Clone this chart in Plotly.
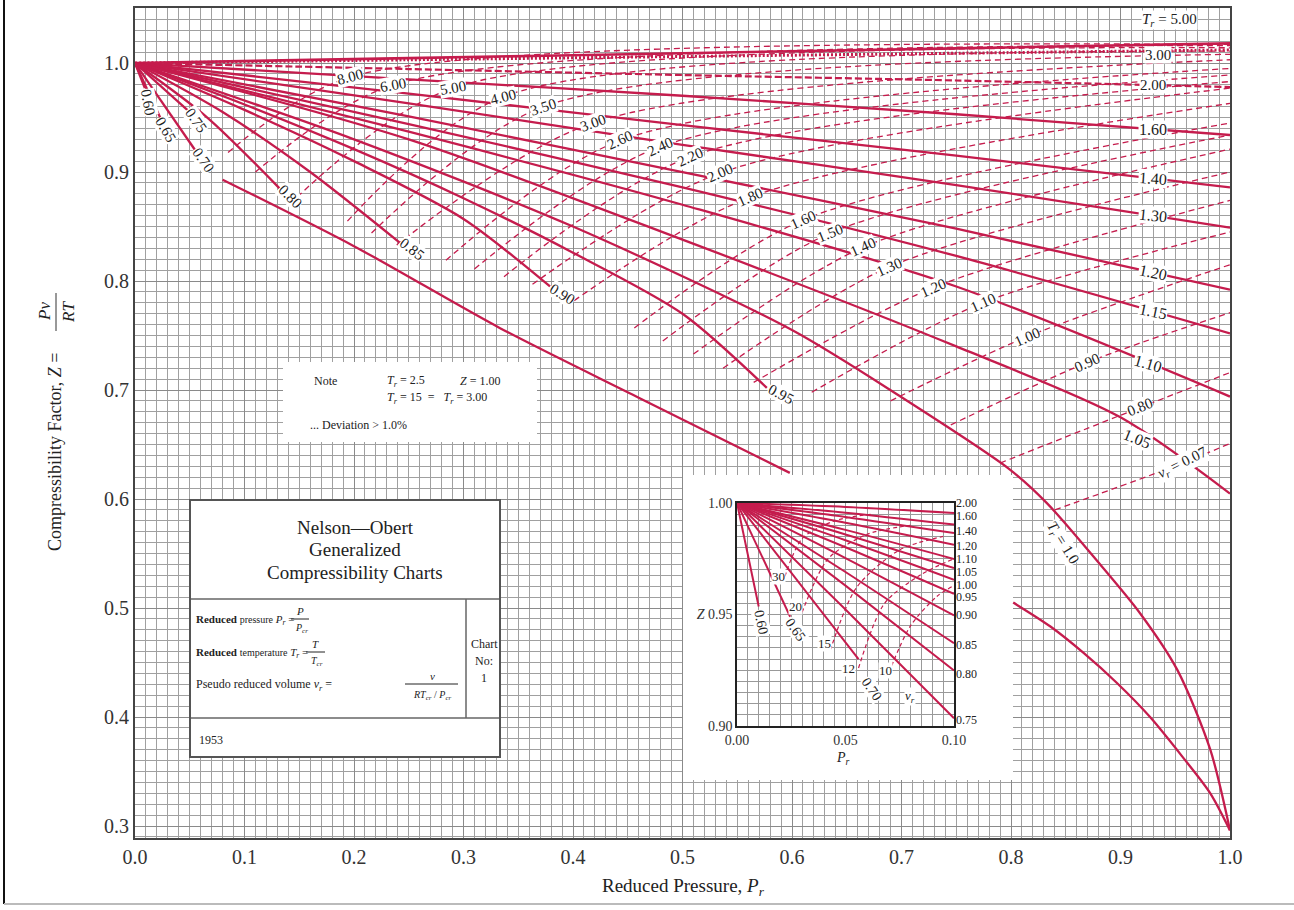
import numpy as np
import plotly.graph_objects as go

RED = "#C51C4D"
GRID = "#a0a0a0"
SERIF = "Liberation Serif"
W, H = 1294, 910
L, R, T, B = 135, 64, 8, 72
YMIN, YMAX = 0.289, 1.0505

# ---------------- main chart data ----------------
iso_pr = [0.0, 0.25, 0.5, 0.75, 1.0]
z_tr_500 = [1.0, 1.0045, 1.009, 1.0135, 1.018]
z_tr_300 = [1.0, 1.003, 1.006, 1.009, 1.012]
z_tr_200 = [1.0, 0.9945, 0.989, 0.984, 0.978]
z_tr_160 = [1.0, 0.985, 0.970, 0.953, 0.934]
z_tr_140 = [1.0, 0.972, 0.943, 0.915, 0.886]
z_tr_130 = [1.0, 0.963, 0.925, 0.888, 0.849]
z_tr_120 = [1.0, 0.951, 0.900, 0.848, 0.792]
z_tr_115 = [1.0, 0.944, 0.886, 0.823, 0.752]
z_tr_110 = [1.0, 0.937, 0.870, 0.795, 0.694]
pr_tr_105 = [0.0, 0.25, 0.5, 0.75, 0.9, 1.0]
z_tr_105 = [1.0, 0.930, 0.838, 0.740, 0.675, 0.605]
pr_tr_100 = [0.0, 0.2, 0.4, 0.6, 0.699, 0.799, 0.833, 0.878, 0.918, 0.952, 0.982, 1.0]
z_tr_100 = [1.0, 0.930, 0.850, 0.755, 0.694, 0.627, 0.596, 0.544, 0.495, 0.443, 0.370, 0.296]
pr_tr_095 = [0.0, 0.1, 0.2, 0.3, 0.4, 0.5, 0.577]
z_tr_095 = [1.0, 0.962, 0.921, 0.876, 0.826, 0.770, 0.702]
pr_tr_090 = [0.0, 0.1, 0.2, 0.3, 0.379]
z_tr_090 = [1.0, 0.957, 0.910, 0.857, 0.795]
pr_tr_085 = [0.0, 0.08, 0.16, 0.242]
z_tr_085 = [1.0, 0.955, 0.900, 0.835]
pr_tr_080 = [0.0, 0.066, 0.132]
z_tr_080 = [1.0, 0.950, 0.885]
pr_tr_075 = [0.0, 0.05]
z_tr_075 = [1.0, 0.955]
pr_tr_070 = [0.0, 0.055]
z_tr_070 = [1.0, 0.920]
pr_tr_065 = [0.0, 0.023]
z_tr_065 = [1.0, 0.950]
pr_tr_060 = [0.0, 0.009]
z_tr_060 = [1.0, 0.977]
# lower boundary curve (passes behind the inset)
pr_bound = [0.080, 0.200, 0.333, 0.460, 0.598, None, 0.802, 0.836, 0.866, 0.897, 0.927, 0.957, 0.982, 1.0]
z_bound = [0.893, 0.832, 0.757, 0.693, 0.624, None, 0.505, 0.483, 0.459, 0.431, 0.400, 0.363, 0.330, 0.296]

# pseudo reduced volume lines (dashed): start, label point, end (at Pr = 1)
vr_values = ["8.00", "6.00", "5.00", "4.00", "3.50", "3.00", "2.60", "2.40", "2.20", "2.00",
             "1.80", "1.60", "1.50", "1.40", "1.30", "1.20", "1.10", "1.00", "0.90", "0.80", "0.70"]
vr_start_pr = [0.085, 0.110, 0.148, 0.194, 0.216, 0.239, 0.284, 0.310, 0.337, 0.363,
               0.401, 0.456, 0.482, 0.510, 0.537, 0.565, 0.618, 0.690, 0.745, 0.790, 0.840]
vr_start_z = [0.918, 0.900, 0.877, 0.855, 0.844, 0.833, 0.819, 0.811, 0.804, 0.797,
              0.782, 0.757, 0.745, 0.733, 0.720, 0.707, 0.698, 0.690, 0.668, 0.633, 0.590]
vr_mid_pr = [0.196, 0.236, 0.290, 0.336, 0.373, 0.418, 0.443, 0.479, 0.507, 0.534,
             0.562, 0.610, 0.635, 0.665, 0.689, 0.729, 0.774, 0.815, 0.869, 0.918, 0.957]
vr_mid_z = [0.987, 0.980, 0.977, 0.969, 0.960, 0.945, 0.929, 0.923, 0.914, 0.899,
            0.877, 0.856, 0.844, 0.831, 0.813, 0.794, 0.780, 0.749, 0.725, 0.684, 0.633]
vr_end_z = [1.017, 1.016, 1.014, 1.011, 1.008, 1.003, 0.995, 0.989, 0.983, 0.977,
            0.963, 0.945, 0.934, 0.921, 0.900, 0.874, 0.845, 0.815, 0.771, 0.716, 0.651]

# ---------------- inset data ----------------
inset_tr = ["2.00", "1.60", "1.40", "1.20", "1.10", "1.05", "1.00", "0.95", "0.90", "0.85", "0.80", "0.75"]
inset_z_end = [0.9955, 0.9903, 0.9865, 0.9813, 0.9749, 0.9708, 0.9656, 0.9593, 0.9496, 0.9371, 0.9249, 0.9035]
inset_short_tr = ["0.60", "0.65", "0.70"]
inset_short_pr = [0.010, 0.0245, 0.056]
inset_short_z = [0.9536, 0.949, 0.930]
inset_vr = ["30", "20", "15", "12", "10"]
inset_vr_pr = [[0.021, 0.030, 0.045, 0.062], [0.030, 0.042, 0.060, 0.080], [0.043, 0.055, 0.075, 0.095],
               [0.056, 0.068, 0.085, 0.100], [0.070, 0.080, 0.092, 0.100]]
inset_vr_z = [[0.964, 0.984, 0.992, 0.995], [0.951, 0.975, 0.986, 0.990], [0.934, 0.962, 0.979, 0.985],
              [0.926, 0.955, 0.968, 0.975], [0.924, 0.945, 0.958, 0.963]]


def px_x(px):
    return (px - L) / (W - L - R)


def px_y(py):
    return (H - B - py) / (H - T - B)


def dy(py):
    return YMIN + px_y(py) * (YMAX - YMIN)


fig = go.Figure()


def line(x, y, width=2.3, dash="solid", xa="x", ya="y", shape="spline"):
    fig.add_trace(go.Scatter(x=x, y=y, mode="lines", xaxis=xa, yaxis=ya, hoverinfo="skip",
                             line=dict(color=RED, width=width, dash=dash, shape=shape, smoothing=0.8),
                             connectgaps=False, showlegend=False))


# vr dashed lines
for i in range(len(vr_values)):
    line([vr_start_pr[i], vr_mid_pr[i], 1.0], [vr_start_z[i], vr_mid_z[i], vr_end_z[i]],
         width=1.3, dash="6px,4px")

# isotherms
line(iso_pr, z_tr_500, width=2.6)
line(iso_pr, z_tr_300, width=3, dash="2px,2px")
line(iso_pr, z_tr_200, width=2.2, dash="7px,3px")
for z in [z_tr_160, z_tr_140, z_tr_130, z_tr_120, z_tr_115, z_tr_110]:
    line(iso_pr, z)
low_curves = [(pr_tr_105, z_tr_105), (pr_tr_100, z_tr_100), (pr_tr_095, z_tr_095), (pr_tr_090, z_tr_090),
              (pr_tr_085, z_tr_085), (pr_tr_080, z_tr_080), (pr_tr_075, z_tr_075), (pr_tr_070, z_tr_070),
              (pr_tr_065, z_tr_065), (pr_tr_060, z_tr_060)]
for p, z in low_curves:
    line(p, z)
line(pr_bound, z_bound)

annotations = []


def label(x, y, text, angle=0, size=15, xref="x", yref="y", bg="white", xanchor="center", xshift=0, yshift=0):
    annotations.append(dict(x=x, y=y, xref=xref, yref=yref, text=text, showarrow=False, textangle=angle,
                            font=dict(family=SERIF, size=size, color="#222"), bgcolor=bg, borderpad=0,
                            xanchor=xanchor, xshift=xshift, yshift=yshift))


vr_angles = [-14, -10, -10, -14, -18, -20, -24, -24, -24, -24, -24, -24, -22, -24, -24, -24, -24, -24, -24, -22, -26]
for i, v in enumerate(vr_values):
    txt = v if v != "0.70" else "<i>v<sub>r</sub></i> = 0.07"
    label(vr_mid_pr[i], vr_mid_z[i], txt, angle=vr_angles[i])

# right side isotherm labels (text, curve, angle, Pr position, vertical nudge)
right_curves = [("1.60", iso_pr, z_tr_160, 0, 0.93, 0), ("1.40", iso_pr, z_tr_140, 4, 0.93, 0),
                ("1.30", iso_pr, z_tr_130, 6, 0.93, 0), ("1.20", iso_pr, z_tr_120, 12, 0.93, 0),
                ("1.15", iso_pr, z_tr_115, 12, 0.93, 0), ("1.10", iso_pr, z_tr_110, 16, 0.925, 0),
                ("1.05", pr_tr_105, z_tr_105, 22, 0.915, -10)]
for txt, p, z, ang, xp, ys in right_curves:
    label(xp, float(np.interp(xp, p, z)), txt, angle=ang, size=16, yshift=ys)
label(0.934, float(np.interp(0.934, iso_pr, z_tr_300)) - 0.004, "3.00", size=15)
label(0.93, float(np.interp(0.93, iso_pr, z_tr_200)), "2.00", size=15)
label(0.945, dy(20), "<i>T<sub>r</sub></i> = 5.00", size=15)
label(0.847, float(np.interp(0.847, pr_tr_100, z_tr_100)) - 0.02, "<i>T<sub>r</sub></i> = 1.0", angle=58, size=15)

low_labels = [("0.95", pr_tr_095, z_tr_095, 28, 14, -6), ("0.90", pr_tr_090, z_tr_090, 32, 12, -8),
              ("0.85", pr_tr_085, z_tr_085, 38, 12, -6), ("0.80", pr_tr_080, z_tr_080, 45, 10, -8),
              ("0.75", pr_tr_075, z_tr_075, 55, 6, -8), ("0.70", pr_tr_070, z_tr_070, 55, 8, -10),
              ("0.65", pr_tr_065, z_tr_065, 60, 6, -12), ("0.60", pr_tr_060, z_tr_060, 80, 3, -14)]
for txt, p, z, ang, xs, ys in low_labels:
    label(p[-1], z[-1], txt, angle=ang, size=15, xshift=xs, yshift=ys)

# ---------------- boxes ----------------
shapes = []


def wbox(x0, y0, x1, y1, border=None):
    shapes.append(dict(type="rect", xref="x", yref="y", x0=px_x(x0), x1=px_x(x1), y0=dy(y1), y1=dy(y0),
                       fillcolor="white", line=dict(color=border or "rgba(0,0,0,0)", width=2 if border else 0),
                       layer="between"))


wbox(283, 362, 537, 442)
wbox(190, 500, 500, 757, border="#555")
wbox(683, 475, 1013, 780)


def pline(x0, y0, x1, y1, color="#666", width=1.5):
    shapes.append(dict(type="line", xref="paper", yref="paper", x0=px_x(x0), x1=px_x(x1), y0=px_y(y0),
                       y1=px_y(y1), line=dict(color=color, width=width), layer="above"))


pline(191, 599, 499, 599)
pline(191, 718, 499, 718)
pline(466, 599, 466, 718)
# fraction bars
pline(291, 619, 309, 619, color="#222", width=1)
pline(306, 652, 325, 652, color="#222", width=1)
pline(405, 684, 458, 684, color="#222", width=1)
# outer frame
pline(4, 0, 4, 904, color="#111", width=2)
pline(4, 904, 1294, 904, color="#bbb", width=2)
# y title fraction bar
pline(56, 293, 56, 331, color="#333", width=1)


def ptext(px, py, text, size=13, angle=0, xanchor="center", color="#222"):
    annotations.append(dict(x=px_x(px), y=px_y(py), xref="paper", yref="paper", text=text, showarrow=False,
                            textangle=angle, xanchor=xanchor, yanchor="middle",
                            font=dict(family=SERIF, size=size, color=color)))


# Note box
ptext(312, 381, "Note", 12, xanchor="left")
ptext(385, 381, "<i>T<sub>r</sub></i> = 2.5", 12, xanchor="left")
ptext(458, 381, "<i>Z</i> = 1.00", 12, xanchor="left")
ptext(385, 398, "<i>T<sub>r</sub></i> = 15  =   <i>T<sub>r</sub></i> = 3.00", 12, xanchor="left")
ptext(308, 425, "... Deviation > 1.0%", 12, xanchor="left")
# Nelson box
ptext(355, 527, "Nelson\u2014Obert", 19)
ptext(355, 549, "Generalized", 19)
ptext(355, 572, "Compressibility Charts", 19)
ptext(194, 620, "<b>Reduced</b> <span style='font-size:10px'>pressure</span> <i>P<sub>r</sub></i> =", 11,
      xanchor="left")
ptext(300, 611, "<i>P</i>", 11)
ptext(301, 628, "<i>P<sub>cr</sub></i>", 10)
ptext(194, 653, "<b>Reduced</b> <span style='font-size:10px'>temperature</span> <i>T<sub>r</sub></i> =", 11,
      xanchor="left")
ptext(315, 644, "<i>T</i>", 11)
ptext(317, 661, "<i>T<sub>cr</sub></i>", 10)
ptext(194, 685, "Pseudo reduced volume <i>v<sub>r</sub></i> =", 12, xanchor="left")
ptext(432, 676, "<i>v</i>", 11)
ptext(432, 695, "<i>RT<sub>cr</sub></i> / <i>P<sub>cr</sub></i>", 10)
ptext(484, 644, "Chart", 12)
ptext(484, 661, "No:", 12)
ptext(484, 678, "1", 12)
ptext(197, 740, "1953", 12, xanchor="left")
# axis titles
ptext(683, 887, "Reduced Pressure, <i>P<sub>r</sub></i>", 19)
ptext(55, 452, "Compressibility Factor, <i>Z</i> =", 18, angle=-90)
ptext(44, 312, "<i>Pv</i>", 17, angle=-90)
ptext(68, 312, "<i>RT</i>", 17, angle=-90)

# ---------------- inset ----------------
for i in range(len(inset_tr)):
    line([0.0, 0.05, 0.1], [1.0, (1.0 + inset_z_end[i]) / 2 + 0.0005, inset_z_end[i]], width=2, xa="x2", ya="y2")
for i in range(len(inset_short_tr)):
    line([0.0, inset_short_pr[i]], [1.0, inset_short_z[i]], width=2, xa="x2", ya="y2")
for i in range(len(inset_vr)):
    line(inset_vr_pr[i], inset_vr_z[i], width=1.2, dash="4px,3px", xa="x2", ya="y2")

inset_label_z = [1.0, 0.994, 0.9873, 0.9805, 0.9748, 0.9690, 0.9634, 0.9580, 0.9496, 0.9364, 0.9234, 0.9027]
for i, t in enumerate(inset_tr):
    label(0.1, inset_label_z[i], t, size=12, xref="x2", yref="y2", bg="rgba(0,0,0,0)", xanchor="left", xshift=1)
inset_short_label_pos = [(0.0112, 0.9465, 78), (0.0268, 0.9431, 55), (0.0621, 0.9162, 55)]
for i, t in enumerate(inset_short_tr):
    x, y, a = inset_short_label_pos[i]
    label(x, y, t, angle=a, size=14, xref="x2", yref="y2")
inset_vr_label_pos = [(0.0192, 0.967), (0.0268, 0.9536), (0.0402, 0.9368), (0.0514, 0.9259), (0.0683, 0.9251)]
for i, t in enumerate(inset_vr):
    x, y = inset_vr_label_pos[i]
    label(x, y, t, size=13, xref="x2", yref="y2")
label(0.0798, 0.9132, "<i>v<sub>r</sub></i>", size=13, xref="x2", yref="y2")
ptext(843, 758, "<i>P<sub>r</sub></i>", 14)

axis_font = dict(family=SERIF, size=20, color="#333")
fig.update_layout(
    width=W, height=H, margin=dict(l=L, r=R, t=T, b=B, autoexpand=False),
    paper_bgcolor="white", plot_bgcolor="white", showlegend=False,
    xaxis=dict(range=[0, 1.0], domain=[0, 1], tickmode="array", automargin=False,
               tickvals=[round(0.1 * i, 1) for i in range(11)],
               ticktext=[f"{0.1 * i:.1f}" for i in range(11)], tickfont=axis_font, ticks="",
               showgrid=True, gridcolor="#8a8a8a", gridwidth=1, zeroline=False,
               minor=dict(dtick=0.01, showgrid=True, gridcolor=GRID, gridwidth=1),
               showline=True, linecolor="#444", linewidth=2, mirror=True),
    yaxis=dict(range=[YMIN, YMAX], domain=[0, 1], tickmode="array", automargin=False,
               tickvals=[round(0.3 + 0.1 * i, 1) for i in range(8)],
               ticktext=[f"{0.3 + 0.1 * i:.1f}" for i in range(8)], tickfont=axis_font, ticks="",
               showgrid=True, gridcolor="#8a8a8a", gridwidth=1, zeroline=False,
               minor=dict(dtick=0.01, showgrid=True, gridcolor=GRID, gridwidth=1),
               showline=True, linecolor="#444", linewidth=2, mirror=True),
    xaxis2=dict(range=[0, 0.1], domain=[px_x(737), px_x(954)], anchor="y2", automargin=False,
                tickvals=[0.0, 0.05, 0.1], ticktext=["0.00", "0.05", "0.10"],
                tickfont=dict(family=SERIF, size=14, color="#333"), ticks="",
                showgrid=True, gridcolor="#999", gridwidth=1, zeroline=False,
                minor=dict(dtick=0.005, showgrid=True, gridcolor="#999"),
                showline=True, linecolor="#222", linewidth=1.5, mirror=True),
    yaxis2=dict(range=[0.9, 1.0], domain=[px_y(726), px_y(503)], anchor="x2", automargin=False,
                tickvals=[0.9, 0.95, 1.0], ticktext=["0.90", "<i>Z</i> 0.95", "1.00"],
                tickfont=dict(family=SERIF, size=14, color="#333"), ticks="",
                showgrid=True, gridcolor="#999", gridwidth=1, zeroline=False,
                minor=dict(dtick=0.005, showgrid=True, gridcolor="#999"),
                showline=True, linecolor="#222", linewidth=1.5, mirror=True),
    shapes=shapes, annotations=annotations,
)

fig.write_html("out.html", config={"displayModeBar": False},
               post_script="document.body.style.margin='0';")
